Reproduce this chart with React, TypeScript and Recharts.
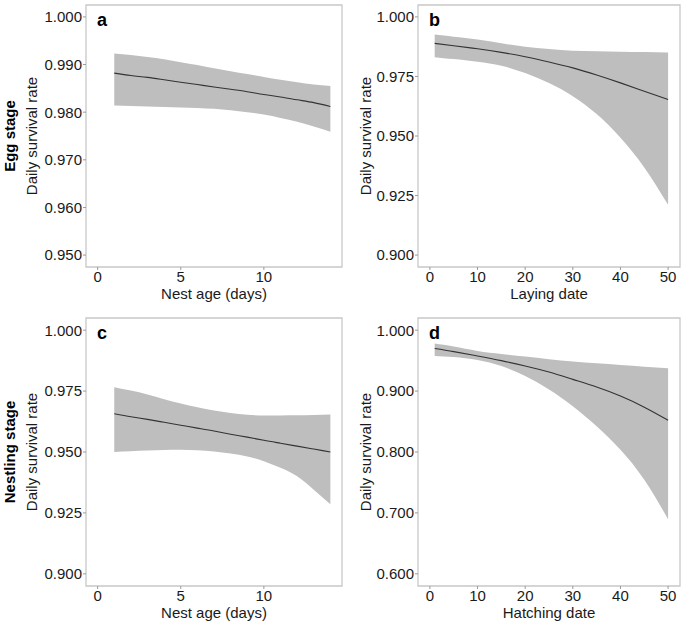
import { Area, ComposedChart, Label, Line, ReferenceArea, XAxis, YAxis } from 'recharts';

const FONT = '"Liberation Sans", Arial, Helvetica, sans-serif';
const TEXT = '#1a1a1a';
const BAND = '#bebebe';
const BORDER = '#c8c8c8';

// a: egg stage, nest age
const eggAgeX = [1, 2, 3, 4, 5, 6, 7, 8, 9, 10, 11, 12, 13, 14];
const eggAgeMean = [0.9882, 0.9877, 0.9873, 0.9868, 0.9863, 0.9858, 0.9853, 0.9848, 0.9843, 0.9837, 0.9832, 0.9826, 0.9820, 0.9812];
const eggAgeLow = [0.9814, 0.9813, 0.9812, 0.9811, 0.9810, 0.9809, 0.9807, 0.9804, 0.9800, 0.9795, 0.9788, 0.9780, 0.9770, 0.9759];
const eggAgeHigh = [0.9923, 0.9920, 0.9916, 0.9911, 0.9905, 0.9899, 0.9892, 0.9886, 0.9880, 0.9874, 0.9868, 0.9863, 0.9858, 0.9855];

// b: egg stage, laying date
const eggDateX = [1, 5, 10, 15, 20, 25, 30, 35, 40, 45, 50];
const eggDateMean = [0.9889, 0.9879, 0.9866, 0.9851, 0.9833, 0.9811, 0.9786, 0.9756, 0.9723, 0.9688, 0.9653];
const eggDateLow = [0.9831, 0.9823, 0.9812, 0.9795, 0.9764, 0.9722, 0.9667, 0.9592, 0.9493, 0.9368, 0.9211];
const eggDateHigh = [0.9926, 0.9917, 0.9905, 0.9889, 0.9875, 0.9865, 0.9858, 0.9856, 0.9854, 0.9853, 0.9851];

// c: nestling stage, nest age
const nestAgeX = [1, 2, 3, 4, 5, 6, 7, 8, 9, 10, 11, 12, 13, 14];
const nestAgeMean = [0.9657, 0.9645, 0.9634, 0.9622, 0.9610, 0.9598, 0.9586, 0.9573, 0.9561, 0.9548, 0.9536, 0.9524, 0.9512, 0.9500];
const nestAgeLow = [0.9500, 0.9503, 0.9506, 0.9508, 0.9509, 0.9507, 0.9502, 0.9494, 0.9482, 0.9462, 0.9435, 0.9400, 0.9345, 0.9286];
const nestAgeHigh = [0.9766, 0.9752, 0.9736, 0.9717, 0.9699, 0.9684, 0.9670, 0.9660, 0.9653, 0.9650, 0.9650, 0.9651, 0.9652, 0.9654];

// d: nestling stage, hatching date
const nestDateX = [1, 5, 10, 15, 20, 25, 30, 35, 40, 45, 50];
const nestDateMean = [0.9698, 0.9648, 0.9577, 0.9500, 0.9412, 0.9313, 0.9192, 0.9066, 0.8918, 0.8736, 0.8522];
const nestDateLow = [0.9577, 0.9560, 0.9511, 0.9412, 0.9247, 0.9027, 0.8753, 0.8423, 0.8038, 0.7544, 0.6896];
const nestDateHigh = [0.9780, 0.9731, 0.9659, 0.9610, 0.9566, 0.9522, 0.9484, 0.9456, 0.9429, 0.9401, 0.9374];

const ageTicks = [0, 5, 10];
const dateTicks = [0, 10, 20, 30, 40, 50];
const eggAgeYTicks = [0.95, 0.96, 0.97, 0.98, 0.99, 1.0];
const quarterYTicks = [0.9, 0.925, 0.95, 0.975, 1.0];
const tenthYTicks = [0.6, 0.7, 0.8, 0.9, 1.0];

function buildRows(x: number[], mean: number[], low: number[], high: number[]) {
  return x.map((value, i) => ({ x: value, mean: mean[i], band: [low[i], high[i]] }));
}

interface PanelProps {
  rows: { x: number; mean: number; band: number[] }[];
  left: number;
  top: number;
  width: number;
  height: number;
  margin: { top: number; right: number; bottom: number; left: number };
  yAxisWidth: number;
  xAxisHeight: number;
  xDomain: [number, number];
  yDomain: [number, number];
  xTicks: number[];
  yTicks: number[];
  xLabel: string;
  yLabelOffset: number;
}

const tickStyle = { fontSize: 15, fill: TEXT, fontFamily: FONT };
const labelStyle = { fontSize: 15, fill: TEXT, fontFamily: FONT, textAnchor: 'middle' as const };

function Panel(p: PanelProps) {
  return (
    <div style={{ position: 'absolute', left: p.left, top: p.top }}>
      <ComposedChart width={p.width} height={p.height} data={p.rows} margin={p.margin}>
        <XAxis
          type="number"
          dataKey="x"
          domain={p.xDomain}
          allowDataOverflow
          ticks={p.xTicks}
          interval={0}
          height={p.xAxisHeight}
          axisLine={false}
          tickLine={{ stroke: '#9a9a9a' }}
          tickSize={3}
          tickMargin={1}
          tick={tickStyle}
        >
          <Label value={p.xLabel} position="insideTop" offset={21} style={labelStyle} />
        </XAxis>
        <YAxis
          type="number"
          domain={p.yDomain}
          allowDataOverflow
          ticks={p.yTicks}
          interval={0}
          width={p.yAxisWidth}
          axisLine={false}
          tickLine={{ stroke: '#9a9a9a' }}
          tickSize={3}
          tickMargin={1}
          tick={tickStyle}
          tickFormatter={(v: number) => v.toFixed(3)}
        >
          <Label value="Daily survival rate" angle={-90} position="insideLeft" offset={p.yLabelOffset} style={labelStyle} />
        </YAxis>
        <Area type="natural" dataKey="band" fill={BAND} fillOpacity={1} stroke="none" isAnimationActive={false} />
        <Line type="natural" dataKey="mean" stroke="#333333" strokeWidth={1.1} dot={false} isAnimationActive={false} />
        <ReferenceArea
          x1={p.xDomain[0]}
          x2={p.xDomain[1]}
          y1={p.yDomain[0]}
          y2={p.yDomain[1]}
          fill="none"
          stroke={BORDER}
          strokeWidth={1.3}
          ifOverflow="extendDomain"
        />
      </ComposedChart>
    </div>
  );
}

export default function App() {
  const ageDomain: [number, number] = [-0.7, 14.7];
  const dateDomain: [number, number] = [-2.5, 52.5];
  return (
    <div style={{ position: 'absolute', left: 0, top: 0, width: 685, height: 622, background: '#fff' }}>
      <Panel
        rows={buildRows(eggAgeX, eggAgeMean, eggAgeLow, eggAgeHigh)}
        left={0} top={0} width={345} height={310}
        margin={{ top: 5, right: 3, bottom: 0, left: 0 }}
        yAxisWidth={86} xAxisHeight={43}
        xDomain={ageDomain} yDomain={[0.9475, 1.0025]}
        xTicks={ageTicks} yTicks={eggAgeYTicks}
        xLabel="Nest age (days)" yLabelOffset={32}
      />
      <Panel
        rows={buildRows(eggDateX, eggDateMean, eggDateLow, eggDateHigh)}
        left={340} top={0} width={345} height={310}
        margin={{ top: 5, right: 5, bottom: 0, left: 0 }}
        yAxisWidth={78} xAxisHeight={43}
        xDomain={dateDomain} yDomain={[0.895, 1.005]}
        xTicks={dateTicks} yTicks={quarterYTicks}
        xLabel="Laying date" yLabelOffset={26}
      />
      <Panel
        rows={buildRows(nestAgeX, nestAgeMean, nestAgeLow, nestAgeHigh)}
        left={0} top={310} width={345} height={312}
        margin={{ top: 8, right: 3, bottom: 0, left: 0 }}
        yAxisWidth={86} xAxisHeight={36}
        xDomain={ageDomain} yDomain={[0.895, 1.005]}
        xTicks={ageTicks} yTicks={quarterYTicks}
        xLabel="Nest age (days)" yLabelOffset={32}
      />
      <Panel
        rows={buildRows(nestDateX, nestDateMean, nestDateLow, nestDateHigh)}
        left={340} top={310} width={345} height={312}
        margin={{ top: 8, right: 5, bottom: 0, left: 0 }}
        yAxisWidth={78} xAxisHeight={36}
        xDomain={dateDomain} yDomain={[0.58, 1.02]}
        xTicks={dateTicks} yTicks={tenthYTicks}
        xLabel="Hatching date" yLabelOffset={26}
      />
      <svg width={685} height={622} style={{ position: 'absolute', left: 0, top: 0, pointerEvents: 'none' }}>
        <g fontFamily={FONT} fontWeight="bold" fill="#000">
          <text x={97} y={26} fontSize={18}>a</text>
          <text x={429} y={26} fontSize={18}>b</text>
          <text x={97} y={339} fontSize={18}>c</text>
          <text x={429} y={339} fontSize={18}>d</text>
          <text transform="translate(10,136) rotate(-90)" textAnchor="middle" dy="0.36em" fontSize={15}>Egg stage</text>
          <text transform="translate(10,452) rotate(-90)" textAnchor="middle" dy="0.36em" fontSize={15}>Nestling stage</text>
        </g>
      </svg>
    </div>
  );
}
